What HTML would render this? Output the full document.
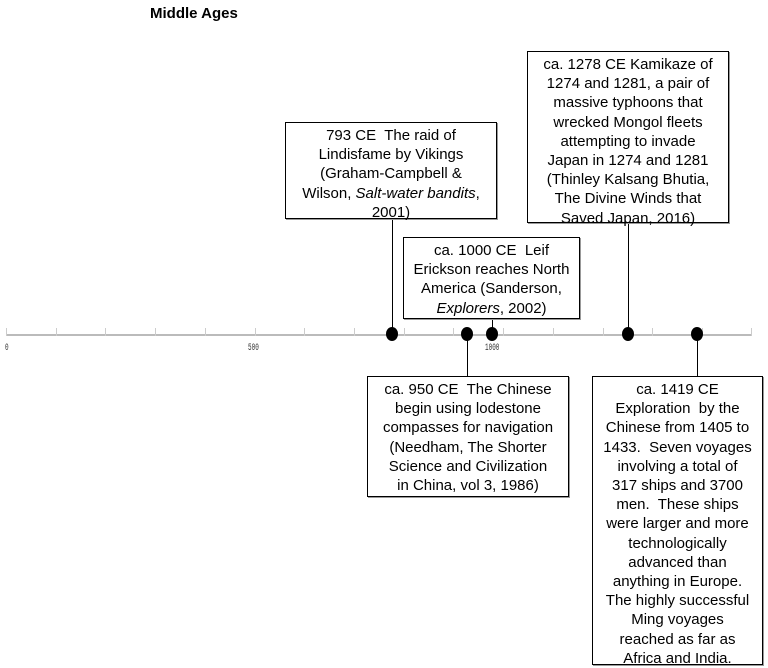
<!DOCTYPE html>
<html><head><meta charset="utf-8"><style>
body{margin:0;width:768px;height:666px;background:#fff;position:relative;overflow:hidden;font-family:"Liberation Sans",Arial,sans-serif;color:#000}
.b{position:absolute;border:1px solid #000;background:#fff;text-align:center;font-size:15px;line-height:19.2px;box-sizing:border-box;padding-top:3px;box-shadow:1px 1px 0 #999}
.v{position:absolute;width:1px;background:#000}
.d{position:absolute;width:12px;height:14px;border-radius:50%;background:#000}
.t{position:absolute;font-size:10px;color:#333;font-family:"Liberation Mono",monospace;transform:scaleX(0.6);transform-origin:left}
.k{position:absolute;top:328px;width:1px;height:8px;background:#ccc}
</style></head><body>
<div style="position:absolute;left:150px;top:5px;font-weight:bold;font-size:15px">Middle Ages</div>
<div style="position:absolute;left:6px;top:334px;width:746px;height:2px;background:#bbb"></div>
<div class="k" style="left:6px"></div><div class="k" style="left:56px"></div><div class="k" style="left:105px"></div><div class="k" style="left:155px"></div><div class="k" style="left:205px"></div><div class="k" style="left:255px"></div><div class="k" style="left:304px"></div><div class="k" style="left:354px"></div><div class="k" style="left:404px"></div><div class="k" style="left:453px"></div><div class="k" style="left:503px"></div><div class="k" style="left:553px"></div><div class="k" style="left:603px"></div><div class="k" style="left:652px"></div><div class="k" style="left:702px"></div><div class="k" style="left:751px"></div>
<div class="t" style="left:5px;top:343px">0</div>
<div class="t" style="left:248px;top:343px">500</div>
<div class="t" style="left:485px;top:343px">1000</div>
<div class="v" style="left:392px;top:218px;height:116px"></div>
<div class="v" style="left:492px;top:318px;height:16px"></div>
<div class="v" style="left:628px;top:222px;height:112px"></div>
<div class="v" style="left:467px;top:334px;height:42px"></div>
<div class="v" style="left:697px;top:334px;height:42px"></div>
<div class="d" style="left:386px;top:327px"></div>
<div class="d" style="left:461px;top:327px"></div>
<div class="d" style="left:486px;top:327px"></div>
<div class="d" style="left:622px;top:327px"></div>
<div class="d" style="left:691px;top:327px"></div>
<div class="b" style="left:285px;top:122px;width:212px;height:97px">793 CE&nbsp; The raid of<br>Lindisfame by Vikings<br>(Graham-Campbell &amp;<br>Wilson, <i>Salt-water bandits</i>,<br>2001)</div>
<div class="b" style="left:403px;top:237px;width:177px;height:82px">ca. 1000 CE&nbsp; Leif<br>Erickson reaches North<br>America (Sanderson,<br><i>Explorers</i>, 2002)</div>
<div class="b" style="left:527px;top:51px;width:202px;height:172px">ca. 1278 CE Kamikaze of<br>1274 and 1281, a pair of<br>massive typhoons that<br>wrecked Mongol fleets<br>attempting to invade<br>Japan in 1274 and 1281<br>(Thinley Kalsang Bhutia,<br>The Divine Winds that<br>Saved Japan, 2016)</div>
<div class="b" style="left:367px;top:376px;width:202px;height:121px">ca. 950 CE&nbsp; The Chinese<br>begin using lodestone<br>compasses for navigation<br>(Needham, The Shorter<br>Science and Civilization<br>in China, vol 3, 1986)</div>
<div class="b" style="left:592px;top:376px;width:171px;height:289px">ca. 1419 CE<br>Exploration&nbsp; by the<br>Chinese from 1405 to<br>1433.&nbsp; Seven voyages<br>involving a total of<br>317 ships and 3700<br>men.&nbsp; These ships<br>were larger and more<br>technologically<br>advanced than<br>anything in Europe.<br>The highly successful<br>Ming voyages<br>reached as far as<br>Africa and India.</div>
</body></html>
